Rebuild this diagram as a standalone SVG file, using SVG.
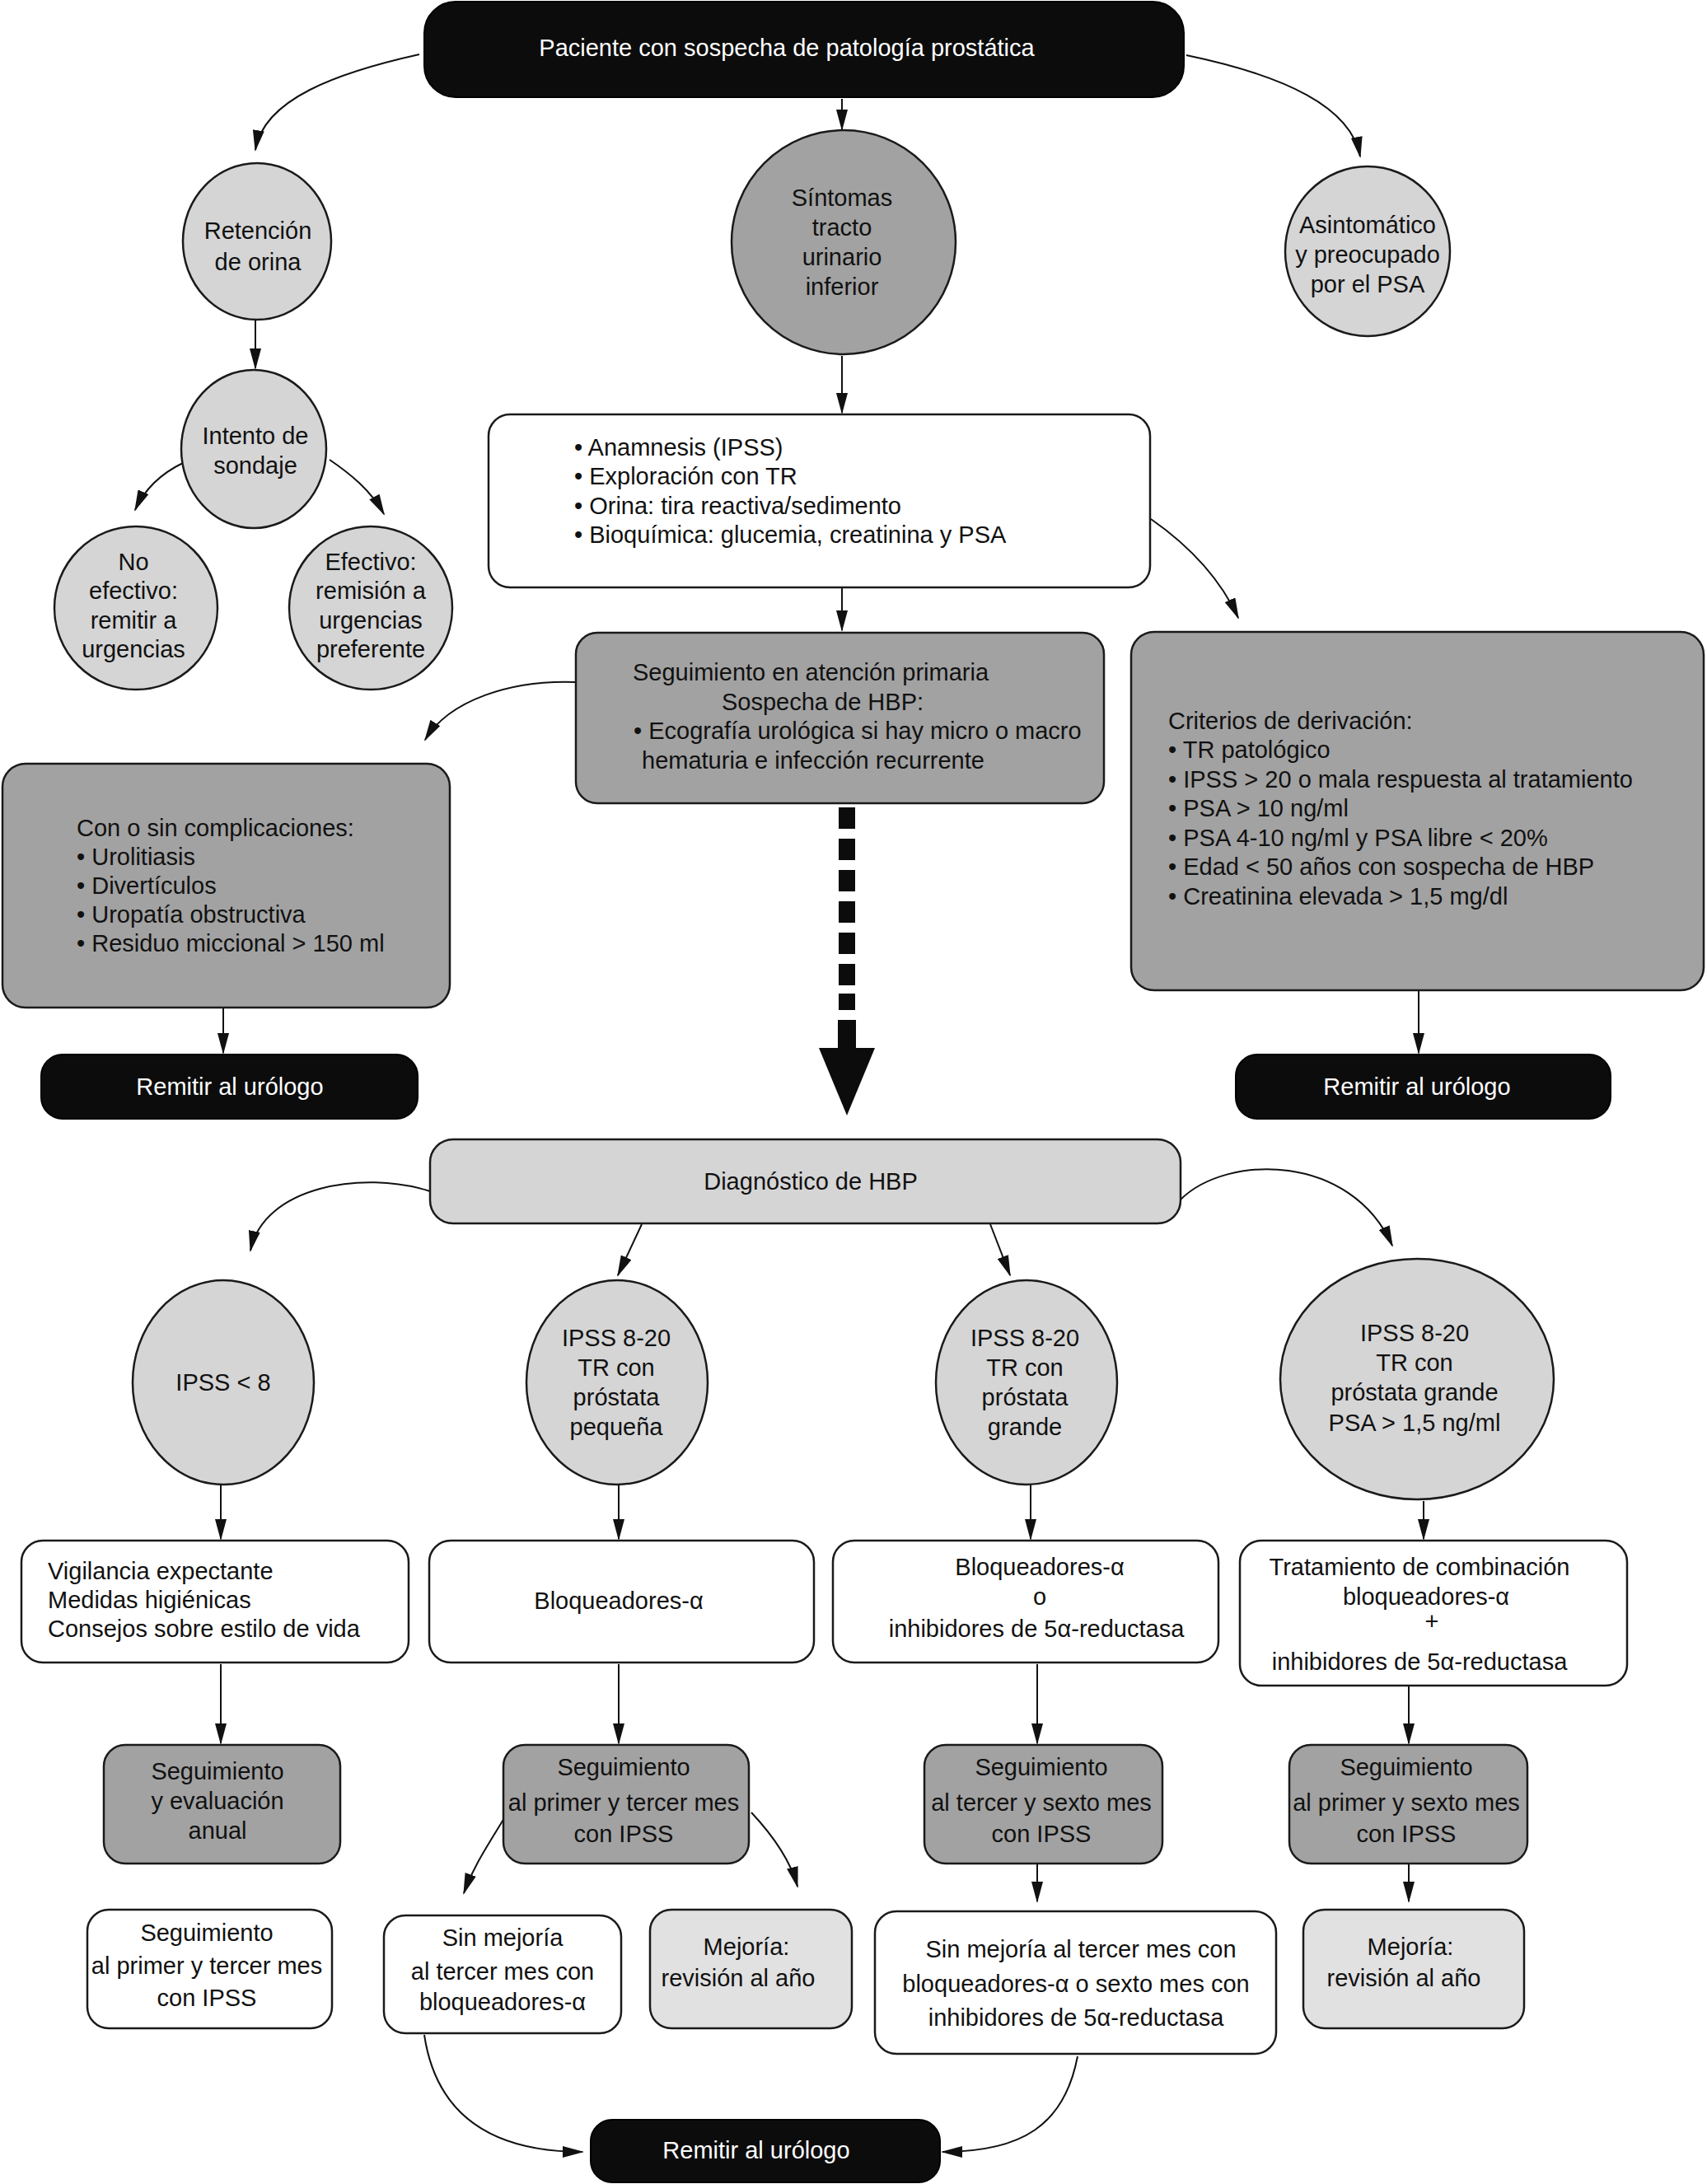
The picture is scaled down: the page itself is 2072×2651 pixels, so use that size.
<svg xmlns="http://www.w3.org/2000/svg" width="2072" height="2651" viewBox="0 0 2072 2651">
<style>
text{font-family:"Liberation Sans",Arial,Helvetica,sans-serif;font-size:29px;fill:#111}
.c{text-anchor:middle}
.w{fill:#fff}
.blk{fill:#0c0c0c;stroke:#000;stroke-width:2}
.lg{fill:#d5d5d5;stroke:#1a1a1a;stroke-width:2.5}
.dg{fill:#a2a2a2;stroke:#1a1a1a;stroke-width:2.5}
.wh{fill:#fff;stroke:#1a1a1a;stroke-width:2.5}
.mj{fill:#e1e1e1;stroke:#1a1a1a;stroke-width:2.5}
.e{fill:none;stroke:#111;stroke-width:2;marker-end:url(#ah)}
</style>
<defs>
<marker id="ah" markerUnits="userSpaceOnUse" markerWidth="26" markerHeight="14" refX="24" refY="7" orient="auto">
<path d="M0,0 L26,7 L0,14 Z" fill="#111"/>
</marker>
</defs>
<rect width="2072" height="2651" fill="#fff"/>

<g id="connectors">
<path class="e" d="M509,66 C410,88 320,120 310,182"/>
<path class="e" d="M1022,120 L1022,157"/>
<path class="e" d="M1440,67 C1560,92 1640,130 1651,190"/>
<path class="e" d="M310,388 L310,447"/>
<path class="e" d="M222,562 C195,575 175,595 164,619"/>
<path class="e" d="M400,558 C425,575 450,595 466,624"/>
<path class="e" d="M1022,432 L1022,501"/>
<path class="e" d="M1022,714 L1022,765"/>
<path class="e" d="M1397,630 C1440,660 1480,700 1503,750"/>
<path class="e" d="M699,828 C620,825 545,850 516,898"/>
<path class="e" d="M271,1224 L271,1278"/>
<path class="e" d="M1722,1203 L1722,1278"/>
<g id="bigarrow" fill="#0c0c0c">
<rect x="1018" y="980" width="20" height="26"/>
<rect x="1018" y="1018" width="20" height="26"/>
<rect x="1018" y="1056" width="20" height="26"/>
<rect x="1018" y="1094" width="20" height="26"/>
<rect x="1018" y="1132" width="20" height="26"/>
<rect x="1018" y="1170" width="20" height="26"/>
<rect x="1018" y="1206" width="20" height="20"/>
<rect x="1017" y="1238" width="22" height="36"/>
<path d="M994,1272 L1062,1272 L1028,1354 Z"/>
</g>
<path class="e" d="M522,1446 C440,1420 320,1440 304,1518"/>
<path class="e" d="M779,1486 L750,1548"/>
<path class="e" d="M1202,1486 L1226,1548"/>
<path class="e" d="M1433,1456 C1490,1400 1640,1400 1690,1512"/>
<path class="e" d="M268,1802 L268,1868"/>
<path class="e" d="M751,1802 L751,1868"/>
<path class="e" d="M1251,1802 L1251,1868"/>
<path class="e" d="M1728,1822 L1728,1868"/>
<path class="e" d="M268,2020 L268,2116"/>
<path class="e" d="M751,2020 L751,2116"/>
<path class="e" d="M1259,2020 L1259,2116"/>
<path class="e" d="M1710,2047 L1710,2116"/>
<path class="e" d="M612,2207 C592,2240 575,2265 563,2298"/>
<path class="e" d="M912,2200 C940,2230 960,2260 968,2290"/>
<path class="e" d="M1259,2263 L1259,2308"/>
<path class="e" d="M1710,2263 L1710,2308"/>
<path class="e" d="M515,2470 C530,2570 600,2612 707,2612"/>
<path class="e" d="M1308,2496 C1292,2580 1240,2612 1144,2612"/>
</g>

<g id="n-paciente">
<rect class="blk" x="515" y="2" width="922" height="116" rx="38"/>
<text class="c w" x="955" y="68">Paciente con sospecha de patología prostática</text>
</g>
<g id="n-retencion">
<ellipse class="lg" cx="312" cy="293" rx="90" ry="95"/>
<text class="c" x="313" y="290">Retención</text>
<text class="c" x="313" y="328">de orina</text>
</g>
<g id="n-sintomas">
<ellipse class="dg" cx="1024" cy="294" rx="136" ry="136"/>
<text class="c" x="1022" y="250">Síntomas</text>
<text class="c" x="1022" y="286">tracto</text>
<text class="c" x="1022" y="322">urinario</text>
<text class="c" x="1022" y="358">inferior</text>
</g>
<g id="n-asintomatico">
<ellipse class="lg" cx="1660" cy="305" rx="100" ry="103"/>
<text class="c" x="1660" y="283">Asintomático</text>
<text class="c" x="1660" y="319">y preocupado</text>
<text class="c" x="1660" y="355">por el PSA</text>
</g>
<g id="n-intento">
<ellipse class="lg" cx="308" cy="545" rx="88" ry="96"/>
<text class="c" x="310" y="539">Intento de</text>
<text class="c" x="310" y="575">sondaje</text>
</g>
<g id="n-noefectivo">
<ellipse class="lg" cx="165" cy="738" rx="99" ry="99"/>
<text class="c" x="162" y="692">No</text>
<text class="c" x="162" y="727">efectivo:</text>
<text class="c" x="162" y="763">remitir a</text>
<text class="c" x="162" y="798">urgencias</text>
</g>
<g id="n-efectivo">
<ellipse class="lg" cx="450" cy="738" rx="99" ry="99"/>
<text class="c" x="450" y="692">Efectivo:</text>
<text class="c" x="450" y="727">remisión a</text>
<text class="c" x="450" y="763">urgencias</text>
<text class="c" x="450" y="798">preferente</text>
</g>
<g id="n-anamnesis">
<rect class="wh" x="593" y="503" width="803" height="210" rx="26"/>
<text x="697" y="553">• Anamnesis (IPSS)</text>
<text x="697" y="588">• Exploración con TR</text>
<text x="697" y="624">• Orina: tira reactiva/sedimento</text>
<text x="697" y="659">• Bioquímica: glucemia, creatinina y PSA</text>
</g>
<g id="n-seguimiento-ap">
<rect class="dg" x="699" y="768" width="641" height="207" rx="26"/>
<text x="768" y="826">Seguimiento en atención primaria</text>
<text x="876" y="862">Sospecha de HBP:</text>
<text x="769" y="897">• Ecografía urológica si hay micro o macro</text>
<text x="779" y="933">hematuria e infección recurrente</text>
</g>
<g id="n-criterios">
<rect class="dg" x="1373" y="767" width="695" height="435" rx="28"/>
<text x="1418" y="885">Criterios de derivación:</text>
<text x="1418" y="920">• TR patológico</text>
<text x="1418" y="956">• IPSS &gt; 20 o mala respuesta al tratamiento</text>
<text x="1418" y="991">• PSA &gt; 10 ng/ml</text>
<text x="1418" y="1027">• PSA 4-10 ng/ml y PSA libre &lt; 20%</text>
<text x="1418" y="1062">• Edad &lt; 50 años con sospecha de HBP</text>
<text x="1418" y="1098">• Creatinina elevada &gt; 1,5 mg/dl</text>
</g>
<g id="n-complicaciones">
<rect class="dg" x="3" y="927" width="543" height="296" rx="28"/>
<text x="93" y="1015">Con o sin complicaciones:</text>
<text x="93" y="1050">• Urolitiasis</text>
<text x="93" y="1085">• Divertículos</text>
<text x="93" y="1120">• Uropatía obstructiva</text>
<text x="93" y="1155">• Residuo miccional &gt; 150 ml</text>
</g>
<g id="n-remitir-1">
<rect class="blk" x="50" y="1280" width="457" height="78" rx="26"/>
<text class="c w" x="279" y="1329">Remitir al urólogo</text>
</g>
<g id="n-remitir-2">
<rect class="blk" x="1500" y="1280" width="455" height="78" rx="26"/>
<text class="c w" x="1720" y="1329">Remitir al urólogo</text>
</g>
<g id="n-diagnostico">
<rect class="lg" x="522" y="1383" width="911" height="102" rx="28"/>
<text class="c" x="984" y="1444">Diagnóstico de HBP</text>
</g>
<g id="n-ipss8">
<ellipse class="lg" cx="271" cy="1678" rx="110" ry="124"/>
<text class="c" x="271" y="1688">IPSS &lt; 8</text>
</g>
<g id="n-pequena">
<ellipse class="lg" cx="749" cy="1678" rx="110" ry="124"/>
<text class="c" x="748" y="1634">IPSS 8-20</text>
<text class="c" x="748" y="1670">TR con</text>
<text class="c" x="748" y="1706">próstata</text>
<text class="c" x="748" y="1742">pequeña</text>
</g>
<g id="n-grande">
<ellipse class="lg" cx="1246" cy="1678" rx="110" ry="124"/>
<text class="c" x="1244" y="1634">IPSS 8-20</text>
<text class="c" x="1244" y="1670">TR con</text>
<text class="c" x="1244" y="1706">próstata</text>
<text class="c" x="1244" y="1742">grande</text>
</g>
<g id="n-psa">
<ellipse class="lg" cx="1720" cy="1674" rx="166" ry="146"/>
<text class="c" x="1717" y="1628">IPSS 8-20</text>
<text class="c" x="1717" y="1664">TR con</text>
<text class="c" x="1717" y="1700">próstata grande</text>
<text class="c" x="1717" y="1737">PSA &gt; 1,5 ng/ml</text>
</g>
<g id="n-vigilancia">
<rect class="wh" x="26" y="1870" width="470" height="148" rx="26"/>
<text x="58" y="1917">Vigilancia expectante</text>
<text x="58" y="1952">Medidas higiénicas</text>
<text x="58" y="1987">Consejos sobre estilo de vida</text>
</g>
<g id="n-bloq">
<rect class="wh" x="521" y="1870" width="467" height="148" rx="26"/>
<text class="c" x="751" y="1953">Bloqueadores-α</text>
</g>
<g id="n-bloq-o-inh">
<rect class="wh" x="1011" y="1870" width="468" height="148" rx="26"/>
<text class="c" x="1262" y="1912">Bloqueadores-α</text>
<text class="c" x="1262" y="1948">o</text>
<text class="c" x="1258" y="1987">inhibidores de 5α-reductasa</text>
</g>
<g id="n-combinacion">
<rect class="wh" x="1505" y="1870" width="470" height="176" rx="26"/>
<text class="c" x="1723" y="1912">Tratamiento de combinación</text>
<text class="c" x="1731" y="1948">bloqueadores-α</text>
<text class="c" x="1738" y="1978">+</text>
<text class="c" x="1723" y="2027">inhibidores de 5α-reductasa</text>
</g>
<g id="n-seg-anual">
<rect class="dg" x="126" y="2118" width="287" height="144" rx="26"/>
<text class="c" x="264" y="2160">Seguimiento</text>
<text class="c" x="264" y="2196">y evaluación</text>
<text class="c" x="264" y="2232">anual</text>
</g>
<g id="n-seg-1-3">
<rect class="dg" x="611" y="2118" width="298" height="144" rx="26"/>
<text class="c" x="757" y="2155">Seguimiento</text>
<text class="c" x="757" y="2198">al primer y tercer mes</text>
<text class="c" x="757" y="2236">con IPSS</text>
</g>
<g id="n-seg-3-6">
<rect class="dg" x="1122" y="2118" width="289" height="144" rx="26"/>
<text class="c" x="1264" y="2155">Seguimiento</text>
<text class="c" x="1264" y="2198">al tercer y sexto mes</text>
<text class="c" x="1264" y="2236">con IPSS</text>
</g>
<g id="n-seg-1-6">
<rect class="dg" x="1565" y="2118" width="289" height="144" rx="26"/>
<text class="c" x="1707" y="2155">Seguimiento</text>
<text class="c" x="1707" y="2198">al primer y sexto mes</text>
<text class="c" x="1707" y="2236">con IPSS</text>
</g>
<g id="n-seg-1-3-b">
<rect class="wh" x="106" y="2318" width="297" height="144" rx="26"/>
<text class="c" x="251" y="2356">Seguimiento</text>
<text class="c" x="251" y="2396">al primer y tercer mes</text>
<text class="c" x="251" y="2435">con IPSS</text>
</g>
<g id="n-sinmejoria-1">
<rect class="wh" x="466" y="2325" width="288" height="143" rx="26"/>
<text class="c" x="610" y="2362">Sin mejoría</text>
<text class="c" x="610" y="2403">al tercer  mes con</text>
<text class="c" x="610" y="2440">bloqueadores-α</text>
</g>
<g id="n-mejoria-1">
<rect class="mj" x="789" y="2318" width="245" height="144" rx="26"/>
<text class="c" x="906" y="2373">Mejoría:</text>
<text class="c" x="896" y="2411">revisión al año</text>
</g>
<g id="n-sinmejoria-2">
<rect class="wh" x="1062" y="2320" width="487" height="173" rx="26"/>
<text class="c" x="1312" y="2376">Sin mejoría al tercer mes con</text>
<text class="c" x="1306" y="2418">bloqueadores-α o sexto mes con</text>
<text class="c" x="1306" y="2459">inhibidores de 5α-reductasa</text>
</g>
<g id="n-mejoria-2">
<rect class="mj" x="1582" y="2318" width="268" height="144" rx="26"/>
<text class="c" x="1712" y="2373">Mejoría:</text>
<text class="c" x="1704" y="2411">revisión al año</text>
</g>
<g id="n-remitir-3">
<rect class="blk" x="717" y="2573" width="424" height="76" rx="26"/>
<text class="c w" x="918" y="2620">Remitir al urólogo</text>
</g>
</svg>
